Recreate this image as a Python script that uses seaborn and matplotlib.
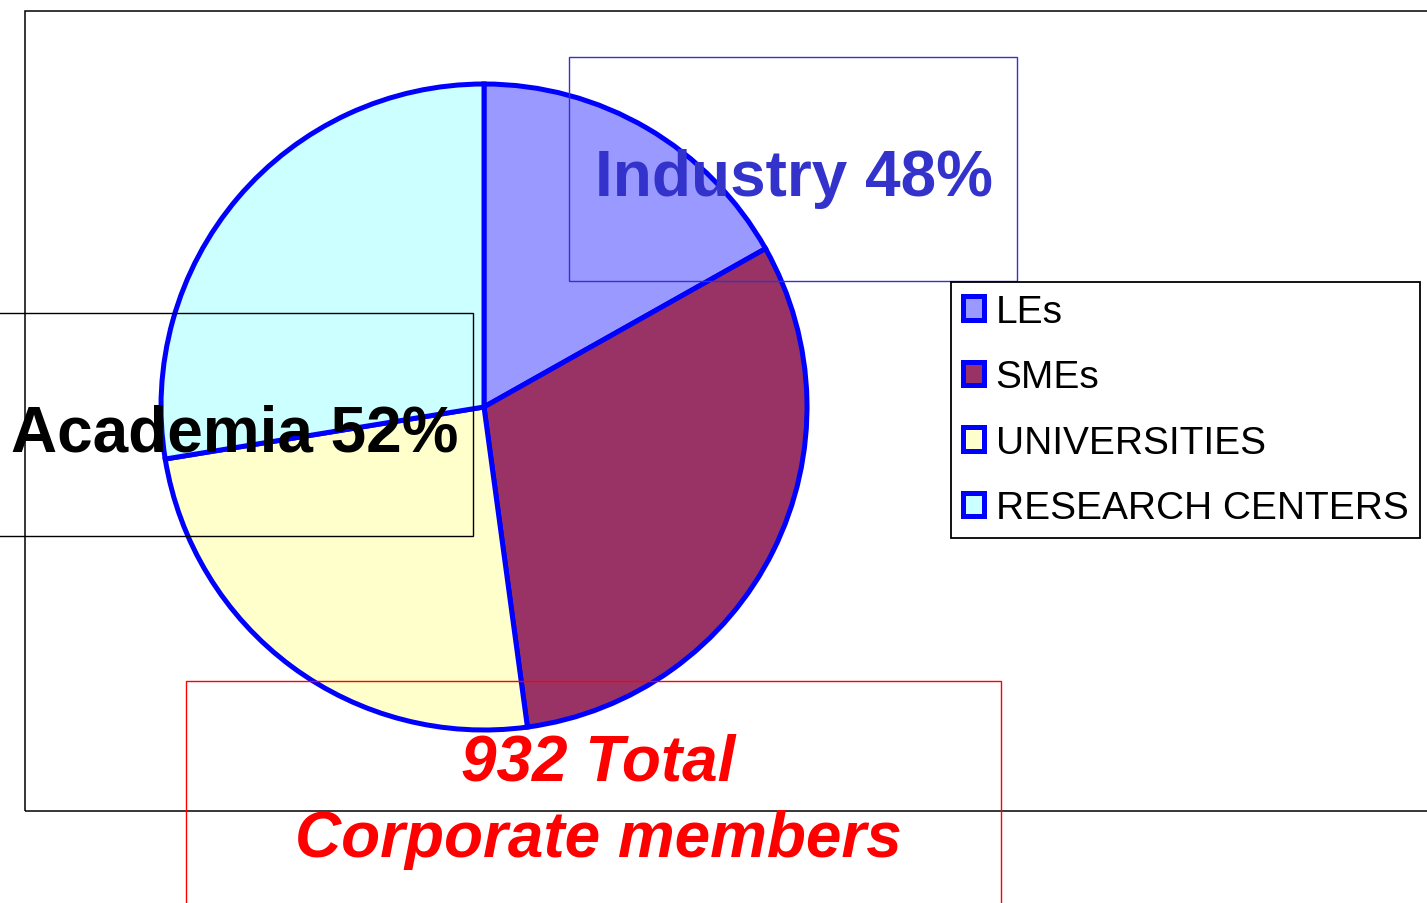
import matplotlib
matplotlib.use('Agg')
import matplotlib.pyplot as plt
from matplotlib.patches import Rectangle
import seaborn as sns

# data
categories = ['LEs', 'SMEs', 'UNIVERSITIES', 'RESEARCH CENTERS']
members = [157, 289, 229, 257]
colors = ['#9999FF', '#993366', '#FFFFCC', '#CCFFFF']
groups = ['Industry', 'Academia']
group_members = [members[0] + members[1], members[2] + members[3]]

sns.set_style('white')
plt.rcParams['font.family'] = ['Liberation Sans', 'DejaVu Sans']
plt.rcParams['text.color'] = 'black'

W, H = 1427, 904
fig = plt.figure(figsize=(W / 100, H / 100), dpi=100)
ax = fig.add_axes([0, 0, 1, 1])


def box(x0, y0, x1, y1, color, lw, z):
    # rectangle given in pixel coords, top-left origin
    ax.add_patch(Rectangle((x0, H - y1), x1 - x0, y1 - y0, fill=False,
                           edgecolor=color, linewidth=lw, zorder=z))


# outer plot-area frame
box(25, 12, W + 20, 812, 'black', 1.1, 1)

wedges, _ = ax.pie(members, colors=colors, startangle=90, counterclock=False,
                   center=(484, H - 408), radius=323,
                   wedgeprops=dict(edgecolor='#0000FF', linewidth=3.6))
for w in wedges:
    w.set_zorder(2)

ax.set_xlim(0, W)
ax.set_ylim(0, H)
ax.set_aspect('equal')
ax.axis('off')

total = sum(members)
pct = [round(100 * g / total) for g in group_members]

# text boxes
box(569, 58, 1017, 282, '#3333CC', 1.0, 3)
ax.text(794, H - 196, f'{groups[0]} {pct[0]}%', color='#3333CC', fontsize=46,
        fontweight='bold', ha='center', va='baseline', zorder=5)

box(-5, 314, 473, 537, 'black', 1.0, 3)
ax.text(235, H - 452, f'{groups[1]} {pct[1]}%', color='black', fontsize=46,
        fontweight='bold', ha='center', va='baseline', zorder=5)

box(186, 682, 1001, H + 20, '#FF0000', 1.0, 3)
ax.text(598, H - 781, f'{total} Total', color='#FF0000', fontsize=46,
        fontweight='bold', style='italic', ha='center', va='baseline', zorder=5)
ax.text(598, H - 857, 'Corporate members', color='#FF0000', fontsize=46,
        fontweight='bold', style='italic', ha='center', va='baseline', zorder=5)

leg = ax.legend(wedges, categories, loc='upper left',
                bbox_to_anchor=(951 / W, 1 - 283 / H), bbox_transform=fig.transFigure,
                borderaxespad=0, fontsize=28, frameon=True, fancybox=False,
                edgecolor='black', framealpha=1, borderpad=0.3,
                handlelength=0.55, handleheight=0.55, handletextpad=0.3,
                labelspacing=0.76, labelcolor='black')
leg.get_frame().set_linewidth(1.3)
leg.set_zorder(4)

fig.savefig('out.png', dpi=100)
